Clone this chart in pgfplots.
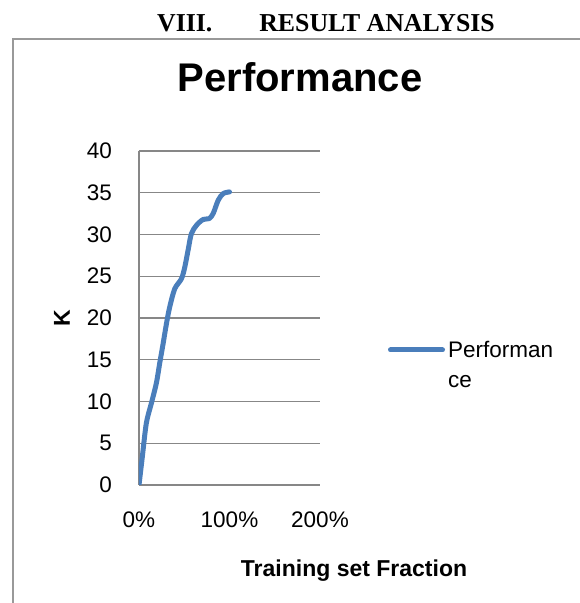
\documentclass[border=0pt]{standalone}
\usepackage{fontspec}
\setmainfont{Liberation Sans}
\newfontfamily\headserif{Liberation Serif}
\usepackage{pgfplots}
\pgfplotsset{compat=1.18}
\usepackage{pgfplotstable}
\definecolor{perfblue}{HTML}{4A7EBB}
\definecolor{gridgray}{HTML}{878787}
\definecolor{framegray}{HTML}{999999}
\pgfplotstableread{
x y
0 0
3.7 3.4
8.1 7.4
13.7 9.8
19.2 12.2
22.9 14.6
26.6 16.9
30.3 19.3
33.9 21.3
39.5 23.5
46.9 24.7
50.6 26.1
54.2 28.1
57.9 30.1
63.5 31.1
70.8 31.8
77.5 31.9
81.9 32.5
87.5 34.1
93.0 34.9
100 35.1
}\perfdata
\begin{document}
\begin{tikzpicture}
\useasboundingbox (0pt,0pt) rectangle (579pt,603pt);
\fill[white] (0pt,0pt) rectangle (579pt,603pt);
\draw[framegray, line width=1.2pt] (13pt,-10pt) -- (13pt,564pt) -- (600pt,564pt);
\node[anchor=base west, inner sep=0pt, font=\headserif\bfseries\fontsize{25.8}{30}\selectfont] at (157pt,571pt) {VIII.\hspace{47pt}RESULT ANALYSIS};
\begin{axis}[
  at={(139pt,118pt)}, anchor=south west,
  scale only axis, width=181pt, height=334pt,
  xmin=0, xmax=200, ymin=0, ymax=40,
  xtick={0,100,200}, xticklabels={0\%,100\%,200\%},
  ytick={0,5,...,40},
  /pgf/number format/assume math mode=true,
  major tick length=0pt,
  axis line style={draw=none},
  ymajorgrids,
  major grid style={gridgray, line width=1.2pt},
  extra x ticks={0}, extra x tick labels={},
  extra x tick style={grid=major, major grid style={gridgray, line width=1.2pt}},
  tick label style={font=\fontsize{22.5}{27}\selectfont, inner sep=0pt},
  yticklabel style={anchor=east, xshift=-27pt},
  xticklabel style={anchor=north, yshift=-26.7pt},
  title={Performance},
  title style={at={(axis description cs:0.8895,1.1587)}, anchor=base, inner sep=0pt, font=\bfseries\fontsize{40}{48}\selectfont},
  xlabel={Training set Fraction},
  xlabel style={at={(axis description cs:1.188,-0.2754)}, anchor=base, inner sep=0pt, font=\bfseries\fontsize{23}{28}\selectfont},
  ylabel={K},
  ylabel style={at={(axis description cs:-0.4254,0.5)}, anchor=center, rotate=0, inner sep=0pt, font=\bfseries\fontsize{23}{28}\selectfont},
  legend style={at={(axis description cs:1.3757,0.3593)}, anchor=west, draw=none, fill=none, inner sep=0pt, outer sep=0pt,
    nodes={inner sep=0pt, outer sep=0pt, align=left, anchor=west, font=\fontsize{22.5}{30}\selectfont},
    /tikz/column sep=3pt},
  legend image code/.code={\draw[#1, line cap=round] (2.5pt,15pt) -- (54.5pt,15pt);},
]
\addplot[perfblue, line width=5pt, smooth, line join=round, line cap=round] table[x=x, y=y] {\perfdata};
\addlegendentry{Performan\\ce}
\end{axis}
\end{tikzpicture}
\end{document}
